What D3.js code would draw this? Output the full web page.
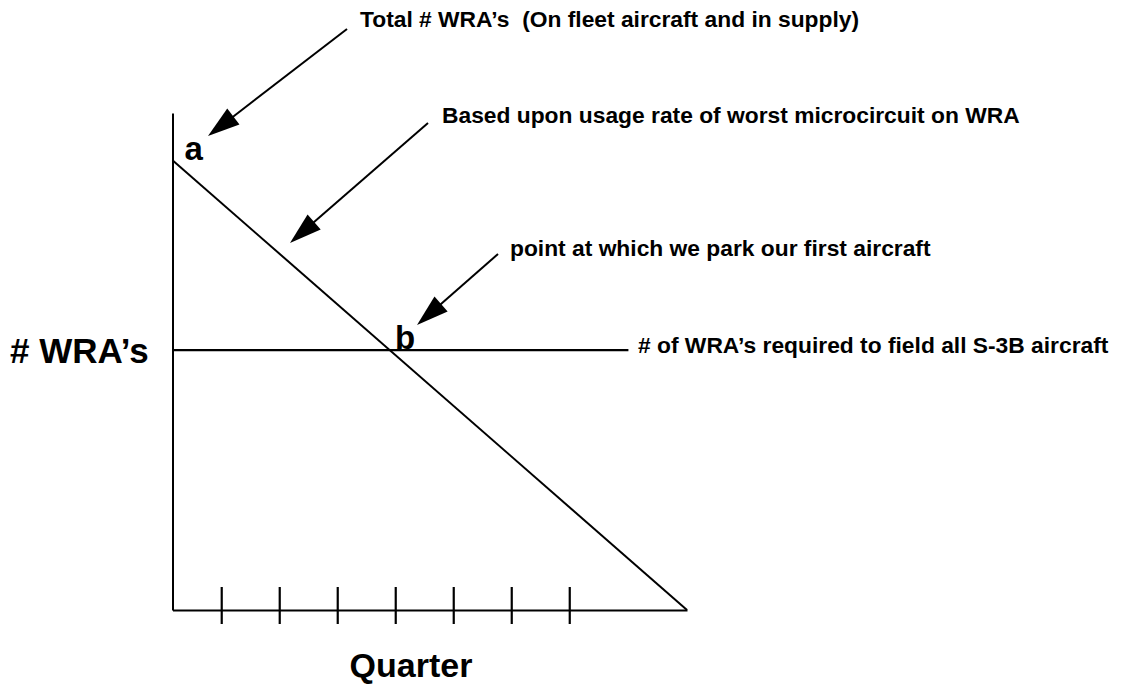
<!DOCTYPE html>
<html>
<head>
<meta charset="utf-8">
<script src="https://cdnjs.cloudflare.com/ajax/libs/d3/7.8.5/d3.min.js"></script>
<style>
    body { margin: 0; background: #fff; }
    text { font-family: Arial, 'Liberation Sans', sans-serif; font-weight: bold; fill: #000; }
</style>
</head>
<body>
<div id="chart"></div>
<script>
// Data (quarters on x, number of WRA's in arbitrary units on y)
var quarterTicks = [1, 2, 3, 4, 5, 6, 7];
var quarterDomain = [0.16, 9.03];
var wraDomain = [0, 100];
var supplyQuarters = [0.16, 9.03];
var supplyWRAs = [90.5, 0];
var requiredWRAs = 52.3;
var requiredQuarters = [0.16, 8.02];

// Setup SVG
var svgWidth = 1126;
var svgHeight = 685;
var svg = d3.select('#chart')
    .append('svg')
    .attr('width', svgWidth)
    .attr('height', svgHeight);

var xScale = d3.scaleLinear()
    .domain(quarterDomain)
    .range([172.5, 687]);
var yScale = d3.scaleLinear()
    .domain(wraDomain)
    .range([610, 113]);

// Axes
var xAxis = svg.append('g')
    .attr('transform', `translate(0, ${yScale(0)})`)
    .call(d3.axisBottom(xScale).tickValues(quarterTicks).tickFormat('').tickSizeOuter(0));
xAxis.select('.domain').attr('stroke-width', 2.2);
xAxis.selectAll('.tick line')
    .attr('y1', -23)
    .attr('y2', 14)
    .attr('stroke-width', 2.2);

var yAxis = svg.append('g')
    .attr('transform', `translate(${xScale(quarterDomain[0])}, 0)`)
    .call(d3.axisLeft(yScale).tickValues([]).tickSizeOuter(0));
yAxis.select('.domain').attr('stroke-width', 2);

// Supply line (a -> zero)
var supply = supplyQuarters.map((q, i) => ({q: q, v: supplyWRAs[i]}));
var line = d3.line()
    .x(d => xScale(d.q))
    .y(d => yScale(d.v));
svg.append('path')
    .datum(supply)
    .attr('d', line)
    .attr('fill', 'none')
    .attr('stroke', '#000')
    .attr('stroke-width', 2);

// Required level
svg.append('path')
    .datum(requiredQuarters.map(q => ({q: q, v: requiredWRAs})))
    .attr('d', line)
    .attr('fill', 'none')
    .attr('stroke', '#000')
    .attr('stroke-width', 2.2);

// Point labels
svg.append('text')
    .attr('x', xScale(supplyQuarters[0]) + 12)
    .attr('y', yScale(supplyWRAs[0]))
    .attr('font-size', 33)
    .text('a');
svg.append('text')
    .attr('x', 395)
    .attr('y', yScale(requiredWRAs) - 1)
    .attr('font-size', 33)
    .text('b');

// Axis titles
svg.append('text')
    .attr('x', 10)
    .attr('y', 363)
    .attr('font-size', 35)
    .text('# WRA\u2019s');
svg.append('text')
    .attr('x', 411)
    .attr('y', 677)
    .attr('text-anchor', 'middle')
    .attr('font-size', 34)
    .text('Quarter');

// Annotations
function drawArrow(x1, y1, x2, y2) {
    var dx = x2 - x1, dy = y2 - y1;
    var len = Math.sqrt(dx * dx + dy * dy);
    var ux = dx / len, uy = dy / len;
    var headLen = 32, headHalf = 10;
    var bx = x2 - ux * headLen, by = y2 - uy * headLen;
    svg.append('line')
        .attr('x1', x1).attr('y1', y1)
        .attr('x2', bx + ux * 2).attr('y2', by + uy * 2)
        .attr('stroke', '#000')
        .attr('stroke-width', 2);
    svg.append('polygon')
        .attr('points', [[x2, y2], [bx - uy * headHalf, by + ux * headHalf], [bx + uy * headHalf, by - ux * headHalf]].join(' '))
        .attr('fill', '#000');
}

drawArrow(347, 29, 208, 136);
drawArrow(428, 123, 290, 243);
drawArrow(498, 254, 417, 325);

var noteSize = 22.8;
svg.append('text')
    .attr('x', 360).attr('y', 27)
    .attr('font-size', noteSize)
    .text('Total # WRA\u2019s  (On fleet aircraft and in supply)')
    .style('white-space', 'pre');
svg.append('text')
    .attr('x', 442).attr('y', 123)
    .attr('font-size', noteSize)
    .text('Based upon usage rate of worst microcircuit on WRA');
svg.append('text')
    .attr('x', 510).attr('y', 256)
    .attr('font-size', noteSize)
    .text('point at which we park our first aircraft');
svg.append('text')
    .attr('x', 638).attr('y', 353)
    .attr('font-size', noteSize)
    .text('# of WRA\u2019s required to field all S-3B aircraft');
</script>
</body>
</html>
